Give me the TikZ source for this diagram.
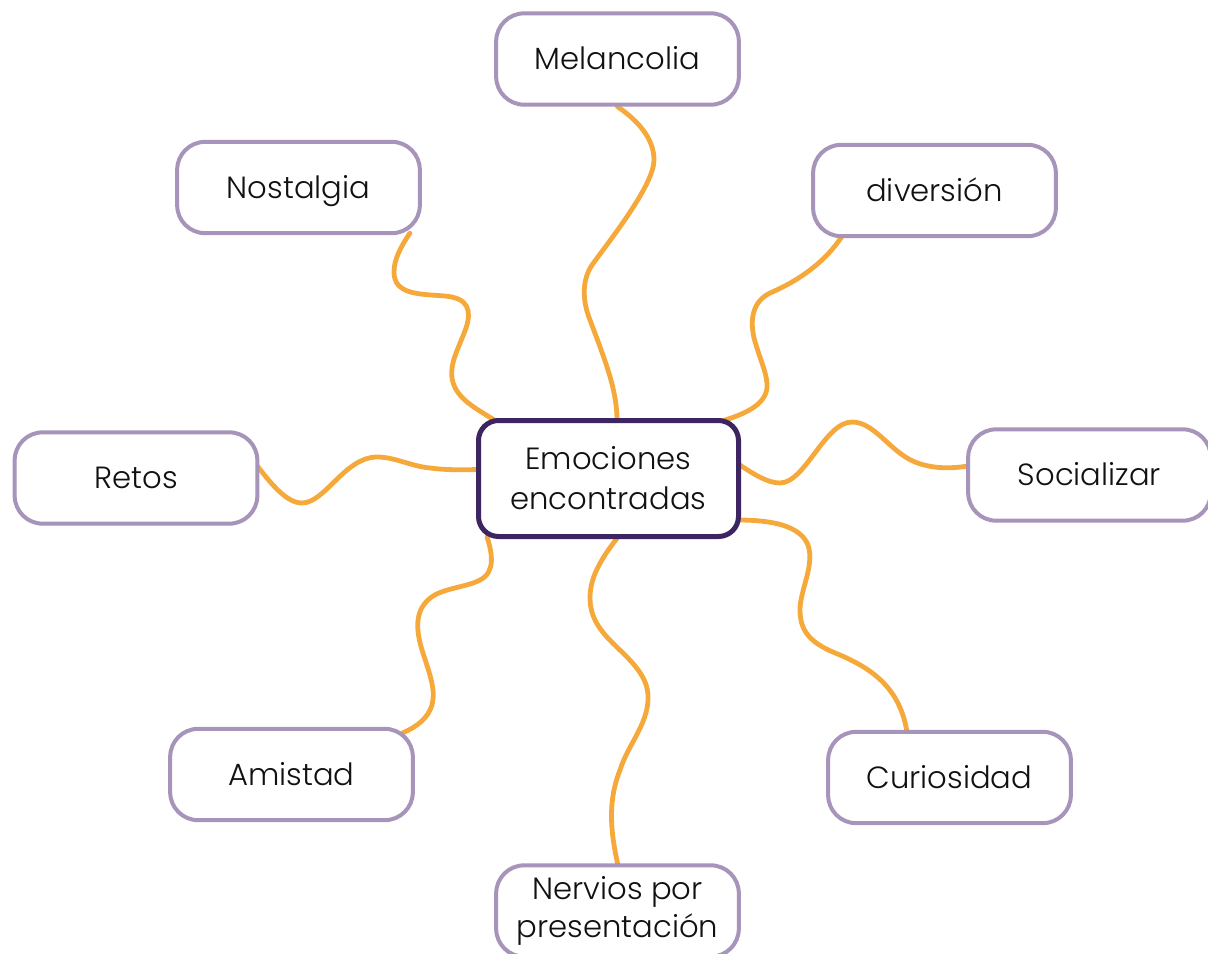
\documentclass[tikz,border=0pt]{standalone}
\usepackage{fontspec}
\setmainfont{Poppins}[UprightFont={* Light}]
\usetikzlibrary{calc}
\pgfdeclarelayer{background}
\pgfsetlayers{background,main}
\definecolor{orangec}{HTML}{F6A93B}
\definecolor{boxc}{HTML}{A694BA}
\definecolor{centc}{HTML}{3D2562}
\definecolor{txtc}{HTML}{111111}
\tikzset{
  leaf/.style={draw=boxc, line width=3pt, rounded corners=21pt, fill=white,
    minimum width=182pt, minimum height=68.5pt, inner sep=0pt, align=center,
    text=txtc, font=\fontsize{23}{29}\selectfont},
  oneline/.style={text height=16pt, text depth=0pt},
  hub/.style={draw=centc, line width=3.75pt, rounded corners=15pt, fill=white,
    minimum width=195pt, minimum height=87pt, inner sep=0pt, align=center,
    text=txtc, font=\fontsize{23}{30}\selectfont},
  conn/.style={draw=orangec, line width=3.6pt, line cap=round}
}
\begin{document}
\begin{tikzpicture}[x=0.75pt,y=-0.75pt]
\useasboundingbox (0,0) rectangle (1208,954);
\clip (0,0) rectangle (1208,954);
\node[hub]  (cen) at (608.5,478.5) {Emociones\\encontradas};
\node[leaf,oneline] (mel) at (617.5,59)    {Melancolia};
\node[leaf,oneline] (nos) at (298.5,187.5) {Nostalgia};
\node[leaf,oneline] (div) at (934.5,190.5) {diversión};
\node[leaf,oneline] (ret) at (136,478)     {Retos};
\node[leaf,oneline] (soc) at (1089.5,475)  {Socializar};
\node[leaf,oneline] (ami) at (291.5,774.5) {Amistad};
\node[leaf,oneline] (cur) at (949.5,777.5) {Curiosidad};
\node[leaf] (ner) at (617.5,911) {Nervios por\\presentación};
\begin{pgfonlayer}{background}
% Melancolia
\draw[conn] (mel.south) .. controls (640,122) and (654,140) .. (654,160)
  .. controls (654,185) and (610,240) .. (592,265)
  .. controls (582,280) and (582,300) .. (590,320)
  .. controls (605,360) and (617,390) .. ($(cen.north)+(8.5,2)$);
% Nostalgia
\draw[conn] ($(nos.south east)+(-12,-2)$) .. controls (400,248) and (394,260) .. (394,272)
  .. controls (394,295) and (420,294) .. (445,296)
  .. controls (468,298) and (472,310) .. (466,328)
  .. controls (458,350) and (450,362) .. (452,378)
  .. controls (455,398) and (475,408) .. ($(cen.north west)+(20,3)$);
% diversion
\draw[conn] ($(div.south west)+(31,-2)$) .. controls (825,262) and (800,280) .. (770,293)
  .. controls (752,302) and (750,320) .. (754,338)
  .. controls (760,360) and (768,375) .. (767,388)
  .. controls (765,405) and (745,414) .. ($(cen.north east)+(-19,3)$);
% Socializar
\draw[conn] ($(cen.east)+(-2,-14)$) .. controls (755,475) and (768,483) .. (780,483)
  .. controls (805,483) and (825,422) .. (852,422)
  .. controls (875,422) and (890,452) .. (915,462)
  .. controls (935,470) and (955,468) .. ($(soc.west)+(2,-9)$);
% Retos
\draw[conn] ($(ret.east)+(-2,-12)$) .. controls (272,485) and (287,503) .. (302,503)
  .. controls (325,503) and (345,457) .. (377,457)
  .. controls (395,457) and (410,466) .. (430,468)
  .. controls (445,470) and (460,470) .. ($(cen.west)+(2,-9)$);
% Amistad
\draw[conn] ($(cen.south west)+(11,-2)$) .. controls (492,552) and (496,572) .. (480,580)
  .. controls (465,588) and (440,588) .. (428,600)
  .. controls (415,612) and (416,630) .. (422,650)
  .. controls (430,675) and (436,690) .. (432,705)
  .. controls (428,718) and (418,726) .. ($(ami.north east)+(-12,6)$);
% Nervios
\draw[conn] ($(cen.south)+(9.5,-2)$) .. controls (600,560) and (590,578) .. (590,598)
  .. controls (590,625) and (610,640) .. (625,655)
  .. controls (640,670) and (649,683) .. (648,700)
  .. controls (647,725) and (628,745) .. (620,770)
  .. controls (608,800) and (610,830) .. ($(ner.north)+(0.5,2)$);
% Curiosidad
\draw[conn] ($(cen.south east)+(-3,-19)$) .. controls (770,520) and (800,525) .. (808,545)
  .. controls (815,565) and (800,590) .. (800,610)
  .. controls (800,635) and (815,645) .. (840,655)
  .. controls (875,670) and (900,690) .. ($(cur.north)+(-42.5,2)$);
\end{pgfonlayer}
\end{tikzpicture}
\end{document}
